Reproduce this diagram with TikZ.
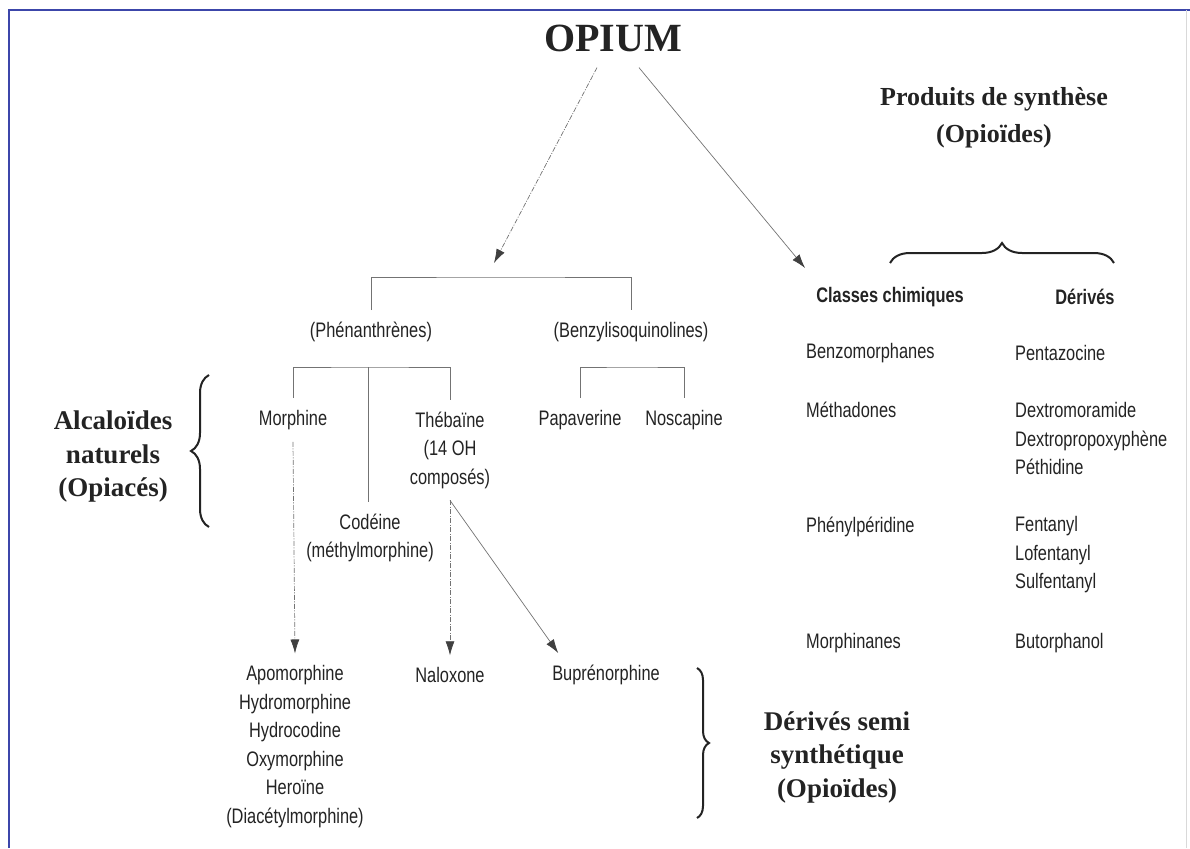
\documentclass[tikz,border=0pt]{standalone}
\usepackage{fontspec}
\setmainfont{Liberation Serif}
\newfontfamily\condfont[FakeStretch=0.78]{Liberation Sans}
\usetikzlibrary{arrows.meta,decorations.pathreplacing}
\definecolor{ink}{RGB}{35,35,35}
\definecolor{framecol}{RGB}{60,70,170}
\tikzset{
  optitle/.style={font=\bfseries\fontsize{40}{44}\selectfont, text=ink, inner sep=2pt},
  grp/.style={font=\bfseries\fontsize{27}{33.5}\selectfont, text=ink, align=center},
  itm/.style={font=\condfont\fontsize{21}{28.5}\selectfont, text=ink, inner sep=1pt},
  hd/.style={itm, font=\condfont\bfseries\fontsize{21}{28.5}\selectfont},
  treenode/.style={itm, align=center, outer sep=11pt},
  link/.style={draw=black!55, line width=0.7pt},
  arr/.style={link, -{Latex[length=14pt,width=9pt,color=black!75]}},
  faint/.style={dash pattern=on 5pt off 1.5pt on 1pt off 1.5pt},
  curly/.style={decorate, decoration={brace, amplitude=#1}, draw=ink, line width=2pt},
}

\begin{document}
\begin{tikzpicture}[x=1pt,y=-1pt]
    \useasboundingbox (0,0) rectangle (1190,848);
    % Frame
    \draw[framecol, line width=1.3pt] (9,848) -- (9,10) -- (1190,10);
    \draw[black!15, line width=0.8pt] (1186,10) -- (1186,848);

    % Title and group labels
    \node[optitle] (opium) at (613,38) {OPIUM};
    \node[grp, font=\bfseries\fontsize{26}{37}\selectfont] (synth) at (994,118) {Produits de synthèse\\(Opioïdes)};
    \node[grp] (alcal) at (113,457) {Alcaloïdes\\naturels\\(Opiacés)};
    \node[grp] (semi) at (837,757) {Dérivés semi\\synthétique\\(Opioïdes)};

    % Braces
    \draw[curly=18pt] (209,527) -- (209,375);
    \draw[curly=20pt] (890,263) -- (1114,263);
    \draw[curly=12pt] (697,668) -- (697,818);

    % Synthetic products
    \node[hd] (classes) at (890,297) {Classes chimiques};
    \node[hd] (derives) at (1085,297) {Dérivés};
    \node[itm, anchor=west] (benzo) at (805,353) {Benzomorphanes};
    \node[itm, anchor=west] (penta) at (1014,353) {Pentazocine};
    \node[itm, anchor=west] (metha) at (805,410) {Méthadones};
    \node[itm, anchor=west, align=left] (dextro) at (1014,438.5) {Dextromoramide\\Dextropropoxyphène\\Péthidine};
    \node[itm, anchor=west] (phenyl) at (805,527) {Phénylpéridine};
    \node[itm, anchor=west, align=left] (fenta) at (1014,555) {Fentanyl\\Lofentanyl\\Sulfentanyl};
    \node[itm, anchor=west] (morphi) at (805,643) {Morphinanes};
    \node[itm, anchor=west] (butor) at (1014,643) {Butorphanol};

    % Natural alkaloids
    \node[treenode] (phen) at (371,332) {(Phénanthrènes)};
    \node[treenode] (benz) at (631,332) {(Benzylisoquinolines)};
    \coordinate (fork) at (500,277);
    \draw[link] (phen.north) |- (fork) -| (benz.north);

    \node[treenode] (morph) at (293,420) {Morphine};
    \node[treenode] (theb) at (450,450) {Thébaïne\\(14 OH\\composés)};
    \node[treenode] (code) at (370,538) {Codéine\\(méthylmorphine)};
    \node[treenode] (papa) at (580,420) {Papaverine};
    \node[treenode] (nosc) at (684,420) {Noscapine};
    \coordinate (phenfork) at (368,367);
    \coordinate (benzfork) at (632,367);
    \draw[link] (morph.north) |- (phenfork) -| (theb.north);
    \draw[link] (phenfork) -- (phenfork |- code.north);
    \draw[link] (papa.north) |- (benzfork) -| (nosc.north);

    % From opium
    \draw[arr, faint] ([xshift=-16pt,yshift=-14pt]opium.south) -- ([xshift=-6pt,yshift=14pt]fork);
    \draw[arr] ([xshift=26pt,yshift=-14pt]opium.south) -- ([xshift=-10pt,yshift=18pt]classes.north west);

    % Semi-synthetic derivatives
    \node[treenode] (apo) at (295,746.5) {Apomorphine\\Hydromorphine\\Hydrocodine\\Oxymorphine\\Heroïne\\(Diacétylmorphine)};
    \node[treenode] (nalo) at (450,675) {Naloxone};
    \node[treenode] (bupr) at (606,675) {Buprénorphine};
    \draw[arr, faint] (morph.south) -- (apo.north);
    \draw[arr, faint] (theb.south) -- (nalo.north);
    \draw[arr] (theb.south) -- ([xshift=18pt]bupr.north west);
\end{tikzpicture}
\end{document}
